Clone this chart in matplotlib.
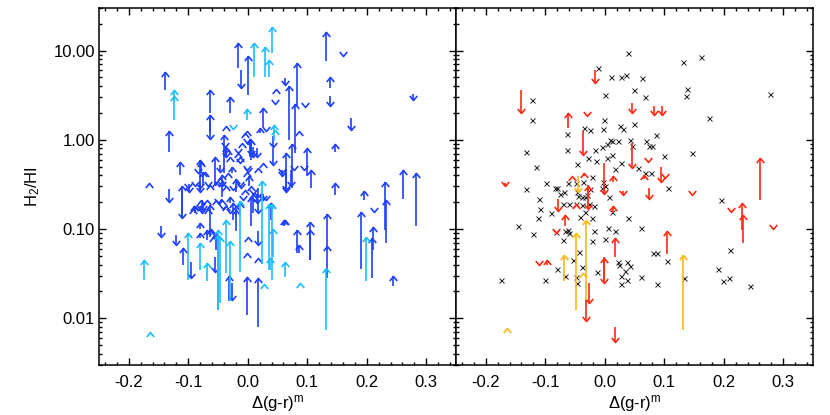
import numpy as np
import matplotlib
matplotlib.use('Agg')
import matplotlib.pyplot as plt
from matplotlib.path import Path
from matplotlib.ticker import FixedLocator, MultipleLocator, LogLocator, FormatStrFormatter, NullFormatter

plt.rcParams['font.family'] = ['Liberation Sans', 'DejaVu Sans']
plt.rcParams['mathtext.default'] = 'regular'
plt.rcParams['axes.unicode_minus'] = False

# ---------------- data: left panel ----------------
# up arrows: (x, tail, tip) ; tail == tip -> bare chevron
blue_up_x = [-0.139, -0.166, -0.132, -0.016, 0.001, 0.132, 0.139, -0.064, -0.063, -0.030, 0.026, 0.048,
             -0.036, -0.002, 0.020, 0.082, 0.069, 0.079, 0.086, 0.075, 0.065, 0.100, 0.106, 0.146, 0.147,
             0.196, 0.231, 0.233, 0.261, 0.283, 0.062, 0.082, 0.086, 0.104, 0.104, 0.134, 0.134, 0.190,
             0.208, 0.211, 0.244, -0.111, -0.114, -0.090, -0.064, -0.109, -0.081, -0.081, -0.069, -0.061,
             -0.019, 0.001, -0.001, 0.017, -0.002, 0.018, -0.032, 0.039, 0.061, 0.006,
             -0.079, -0.076, -0.055, -0.040, -0.036, -0.026, 0.003, -0.019, 0.002, -0.053, -0.030, -0.089,
             -0.025, -0.019, 0.009, -0.053, -0.081, -0.044, 0.006,
             -0.064, -0.047, -0.044, -0.036, -0.030, -0.005, 0.006, 0.026, 0.017, -0.069, -0.053, -0.044,
             -0.036, -0.013, -0.064, -0.058, -0.033, -0.013, -0.016, -0.010, -0.004, -0.072, -0.033,
             -0.002, -0.078, -0.092, -0.067]
blue_up_tail = [3.6, 0.33, 0.74, 6.4, 3.2, 7.6, 3.8, 2.0, 1.19, 2.0, 1.41, 3.7,
                1.43, 1.24, 1.19, 2.4, 1.0, 0.71, 1.24, 0.29, 0.50, 0.39, 0.29, 0.74, 0.24,
                0.21, 0.098, 0.069, 0.22, 0.107, 0.11, 0.054, 0.054, 0.045, 0.045, 0.058, 0.028, 0.036,
                0.028, 0.058, 0.023, 0.138, 0.40, 0.164, 0.082, 0.040, 0.10, 0.080, 0.076, 0.10,
                0.094, 0.082, 0.054, 0.047, 0.011, 0.0081, 0.0155, 0.127, 0.107, 0.107,
                0.42, 0.30, 0.30, 0.42, 0.65, 0.42, 0.65, 0.26, 0.30, 0.30, 0.195, 0.15,
                0.127, 0.138, 0.15, 0.058, 0.275, 0.23, 0.60,
                0.31, 0.37, 0.34, 0.30, 0.65, 0.275, 0.30, 0.55, 0.48, 0.21, 0.21, 0.21,
                0.18, 0.195, 0.098, 0.082, 0.77, 0.65, 0.71, 0.92, 1.19, 0.44, 0.42,
                0.44, 0.21, 0.17, 0.17]
blue_up_tip = [5.7, 0.33, 1.24, 12.1, 8.8, 16.0, 5.1, 3.6, 1.9, 3.0, 2.3, 3.7,
               1.43, 1.24, 1.35, 7.2, 4.0, 2.5, 1.24, 0.90, 0.71, 0.81, 0.46, 0.90, 0.33,
               0.27, 0.34, 0.21, 0.46, 0.42, 0.127, 0.098, 0.067, 0.12, 0.098, 0.148, 0.065, 0.157,
               0.079, 0.105, 0.030, 0.30, 0.57, 0.18, 0.187, 0.062, 0.116, 0.090, 0.098, 0.10,
               0.164, 0.082, 0.054, 0.047, 0.029, 0.028, 0.030, 0.195, 0.127, 0.23,
               0.57, 0.44, 0.65, 1.12, 0.84, 0.50, 1.01, 0.36, 0.39, 0.34, 0.23, 0.18,
               0.195, 0.18, 0.25, 0.090, 0.60, 0.40, 1.0,
               0.31, 0.37, 0.34, 0.30, 0.65, 0.275, 0.30, 0.55, 0.48, 0.21, 0.21, 0.21,
               0.18, 0.195, 0.098, 0.082, 0.77, 0.65, 0.71, 0.92, 1.19, 0.44, 0.42,
               0.44, 0.21, 0.17, 0.17]

blue_dn_x = [-0.012, 0.160, 0.138, 0.278, 0.174, 0.062, 0.096, 0.046, 0.043, -0.063, -0.132, -0.146,
             -0.111, -0.099, -0.081, -0.077, -0.120, -0.096, -0.055, -0.026, 0.017, 0.065, 0.064, 0.057,
             0.078, 0.094, 0.213, 0.057,
             -0.047, 0.005, 0.009, 0.015, -0.036, -0.081, 0.017, 0.017, 0.026, -0.075, 0.043, 0.015, 0.073,
             -0.016, -0.013, -0.002, -0.001, -0.089, -0.067, -0.043, -0.025, -0.011, 0.001, 0.009, 0.030,
             -0.081, -0.050, -0.041, -0.030, -0.008, 0.031, -0.039, -0.100, -0.084, -0.013]
blue_dn_tail = [6.1, 8.6, 3.1, 3.3, 1.76, 4.9, 2.35, 2.5, 0.81, 1.83, 0.28, 0.107,
                0.275, 0.32, 0.31, 0.21, 0.086, 0.043, 0.049, 0.025, 0.094, 0.46, 0.50, 0.42,
                0.46, 0.46, 0.157, 0.46,
                0.52, 0.92, 0.84, 0.81, 0.84, 0.34, 0.29, 0.22, 0.25, 0.195, 1.09, 0.25, 0.46,
                0.71, 0.55, 0.92, 0.46, 0.30, 0.30, 0.30, 0.275, 0.29, 0.44, 0.25, 0.21,
                0.17, 0.195, 0.17, 0.15, 0.21, 1.24, 0.84, 0.29, 0.42, 0.30]
blue_dn_tip = [3.8, 8.6, 2.4, 2.8, 1.29, 4.1, 2.35, 2.5, 0.52, 1.02, 0.20, 0.082,
               0.133, 0.26, 0.26, 0.15, 0.067, 0.028, 0.033, 0.016, 0.067, 0.275, 0.26, 0.42,
               0.46, 0.46, 0.157, 0.39,
               0.44, 0.68, 0.65, 0.65, 0.65, 0.29, 0.23, 0.15, 0.21, 0.164, 0.84, 0.195, 0.30,
               0.71, 0.55, 0.92, 0.46, 0.30, 0.30, 0.30, 0.275, 0.29, 0.44, 0.25, 0.21,
               0.17, 0.195, 0.17, 0.15, 0.21, 1.24, 0.84, 0.29, 0.42, 0.30]

cyan_up_x = [-0.175, -0.164, -0.124, -0.124, 0.010, 0.029, 0.036, 0.040, -0.002, 0.044, 0.046,
             -0.100, -0.081, -0.068, -0.050, -0.050, -0.047, -0.037, -0.030, -0.013, 0.024, 0.036,
             0.040, 0.037, 0.043, 0.027, 0.062, 0.087, 0.131, 0.198]
cyan_up_tail = [0.027, 0.0071, 1.68, 2.8, 5.1, 5.1, 5.1, 9.4, 1.68, 0.97, 1.3,
                0.027, 0.035, 0.026, 0.0124, 0.0124, 0.0147, 0.032, 0.0155, 0.033, 0.041, 0.035,
                0.027, 0.035, 0.049, 0.024, 0.029, 0.025, 0.0074, 0.026]
cyan_up_tip = [0.045, 0.0071, 3.6, 3.1, 12.1, 11.0, 7.9, 18.3, 2.2, 1.45, 1.3,
               0.090, 0.069, 0.042, 0.097, 0.085, 0.082, 0.127, 0.073, 0.209, 0.35, 0.19,
               0.19, 0.047, 0.10, 0.024, 0.043, 0.025, 0.037, 0.081]

cyan_dn_x = [-0.025]
cyan_dn_tail = [1.32]
cyan_dn_tip = [1.32]

# ---------------- data: right panel ----------------
cross_x = [0.039, -0.011, 0.010, 0.028, 0.035, 0.062, 0.132, 0.161, -0.123, 0.049, 0.000, 0.068, 0.138,
           0.137, -0.122, 0.175, -0.002, -0.035, -0.024, -0.003, 0.025, 0.031, 0.049, -0.063, 0.086,
           -0.133, -0.064, -0.016, -0.005, -0.028, 0.008, 0.013, 0.004, 0.022, 0.042, 0.045, 0.069,
           0.075, 0.079, 0.099, 0.146, -0.116, -0.046, -0.014, 0.003, 0.012, 0.028, 0.018, 0.056,
           0.067, 0.077, -0.021, -0.036, -0.003, 0.106, -0.133, -0.099, -0.084, -0.080, -0.069, -0.076,
           -0.062, -0.048, -0.046, -0.045, -0.039, -0.033, -0.030, -0.025, -0.027, -0.018, -0.005, 0.000,
           0.007, 0.013, -0.111, -0.109, -0.112, -0.146, -0.120, -0.090, -0.070, -0.060, -0.048, -0.039,
           -0.034, -0.042, -0.022, 0.039, 0.061, -0.067, -0.062, -0.060, -0.082, -0.070, -0.018, 0.006,
           0.000, 0.018, -0.021, -0.043, -0.054, -0.038, -0.081, -0.067, -0.100, -0.175, -0.048, -0.046,
           -0.013, 0.023, 0.024, 0.038, 0.043, 0.034, 0.027, 0.028, 0.038, 0.061, 0.087, 0.081, 0.087,
           0.104, 0.134, 0.211, 0.191, 0.199, 0.208, 0.244, 0.196, 0.278]
cross_y = [9.4, 6.4, 5.1, 5.0, 5.3, 4.9, 7.5, 8.4, 2.76, 3.6, 3.2, 3.0, 3.7,
           3.1, 1.68, 1.75, 1.68, 1.37, 1.29, 1.32, 1.44, 1.32, 1.49, 1.16, 1.14,
           0.73, 0.77, 0.76, 0.84, 0.63, 1.0, 0.96, 0.90, 0.96, 1.0, 0.86, 0.97,
           0.86, 0.86, 0.66, 0.72, 0.50, 0.53, 0.58, 0.62, 0.67, 0.55, 0.47, 0.48,
           0.43, 0.43, 0.38, 0.34, 0.34, 0.285, 0.28, 0.33, 0.29, 0.29, 0.26, 0.25,
           0.33, 0.33, 0.26, 0.235, 0.23, 0.23, 0.24, 0.28, 0.19, 0.18, 0.29, 0.30,
           0.23, 0.157, 0.216, 0.167, 0.132, 0.108, 0.088, 0.15, 0.19, 0.19, 0.19, 0.187,
           0.156, 0.138, 0.132, 0.132, 0.102, 0.094, 0.098, 0.090, 0.092, 0.076, 0.095, 0.102,
           0.078, 0.094, 0.074, 0.055, 0.045, 0.038, 0.0355, 0.030, 0.027, 0.027, 0.029, 0.025,
           0.033, 0.043, 0.040, 0.043, 0.039, 0.034, 0.030, 0.024, 0.027, 0.029, 0.024, 0.054, 0.054,
           0.044, 0.028, 0.059, 0.036, 0.026, 0.028, 0.023, 0.21, 3.3]

red_dn_x = [-0.017, -0.140, -0.030, 0.046, 0.082, 0.096, -0.036, 0.045, 0.072, -0.002, 0.095, 0.101,
            -0.167, 0.030, 0.075, 0.147, -0.078, -0.028, 0.213, -0.082, 0.283, -0.110, -0.002, -0.026,
            -0.032, 0.017]
red_dn_tail = [6.1, 3.6, 1.83, 2.6, 2.4, 2.4, 1.24, 0.92, 0.57, 0.55, 0.50, 0.37,
               0.33, 0.27, 0.29, 0.24, 0.22, 0.31, 0.155, 0.09, 0.10, 0.040, 0.049, 0.025,
               0.016, 0.0081]
red_dn_tip = [4.3, 2.0, 1.83, 2.0, 1.9, 1.9, 0.68, 0.48, 0.57, 0.25, 0.34, 0.37,
              0.30, 0.24, 0.22, 0.24, 0.16, 0.17, 0.155, 0.09, 0.10, 0.040, 0.025, 0.0147,
              0.0093, 0.0055]

red_up_x = [-0.062, -0.035, -0.055, 0.014, 0.066, 0.261, -0.048, 0.014, -0.066, 0.230, 0.232, 0.105,
            0.017, -0.097, -0.002, -0.028]
red_up_tail = [1.35, 0.39, 0.39, 0.34, 0.36, 0.21, 0.19, 0.15, 0.107, 0.098, 0.069, 0.052,
               0.049, 0.040, 0.027, 0.25]
red_up_tip = [2.0, 0.42, 0.39, 0.39, 0.40, 0.62, 0.19, 0.18, 0.145, 0.195, 0.145, 0.094,
              0.079, 0.045, 0.047, 0.30]

orange_up_x = [-0.165, -0.069, -0.049, -0.032, -0.036, 0.132]
orange_up_tail = [0.0078, 0.026, 0.0124, 0.016, 0.032, 0.0074]
orange_up_tip = [0.0078, 0.051, 0.090, 0.127, 0.032, 0.051]

orange_dn_x = [-0.045]
orange_dn_tail = [0.39]
orange_dn_tip = [0.26]

x_ticks = [-0.2, -0.1, 0.0, 0.1, 0.2, 0.3]
y_ticks = [0.01, 0.1, 1.0, 10.0]

# ---------------- colours ----------------
BLUE = '#1f3fff'
CYAN = '#1cbcff'
RED = '#ff2a14'
ORANGE = '#ffb814'

UP = Path([(-0.5, -0.6), (0, 0), (0.5, -0.6)], [Path.MOVETO, Path.LINETO, Path.LINETO])
DOWN = Path([(-0.5, 0.6), (0, 0), (0.5, 0.6)], [Path.MOVETO, Path.LINETO, Path.LINETO])


def arrows(ax, x, tail, tip, up, color):
    ax.vlines(x, tail, tip, colors=color, lw=1.2, zorder=3)
    ax.plot(x, tip, ls='none', marker=UP if up else DOWN, ms=6.5, mec=color,
            mfc='none', mew=1.2, zorder=3)


fig = plt.figure(figsize=(8.3, 4.15), dpi=100)
axL = fig.add_axes([99 / 830, 50 / 415, 357 / 830, 357 / 415])
axR = fig.add_axes([456 / 830, 50 / 415, 357 / 830, 357 / 415])

arrows(axL, blue_up_x, blue_up_tail, blue_up_tip, True, BLUE)
arrows(axL, blue_dn_x, blue_dn_tail, blue_dn_tip, False, BLUE)
arrows(axL, cyan_up_x, cyan_up_tail, cyan_up_tip, True, CYAN)
arrows(axL, cyan_dn_x, cyan_dn_tail, cyan_dn_tip, False, CYAN)

axR.plot(cross_x, cross_y, ls='none', marker='x', ms=3.6, mew=0.7, color='#222222', zorder=2)
arrows(axR, red_up_x, red_up_tail, red_up_tip, True, RED)
arrows(axR, red_dn_x, red_dn_tail, red_dn_tip, False, RED)
arrows(axR, orange_up_x, orange_up_tail, orange_up_tip, True, ORANGE)
arrows(axR, orange_dn_x, orange_dn_tail, orange_dn_tip, False, ORANGE)

for ax in (axL, axR):
    ax.set_yscale('log')
    ax.set_xlim(-0.25, 0.35)
    ax.set_ylim(0.003, 30)
    ax.xaxis.set_major_locator(FixedLocator(x_ticks))
    ax.xaxis.set_minor_locator(MultipleLocator(0.02))
    ax.xaxis.set_major_formatter(FormatStrFormatter('%.1f'))
    ax.yaxis.set_major_locator(FixedLocator(y_ticks))
    ax.yaxis.set_minor_locator(LogLocator(base=10, subs=np.arange(2, 10), numticks=20))
    ax.yaxis.set_minor_formatter(NullFormatter())
    ax.tick_params(which='both', direction='in', top=True, right=True, width=1.0,
                   labelsize=12, colors='black')
    ax.tick_params(which='major', length=5)
    ax.tick_params(which='minor', length=2.5)
    ax.tick_params(axis='x', which='major', pad=7)
    ax.tick_params(axis='y', which='major', pad=3)
    for s in ax.spines.values():
        s.set_linewidth(1.1)
    ax.set_xlabel('Δ(g-r)$^{m}$', fontsize=12, labelpad=2)

axL.yaxis.set_major_formatter(FormatStrFormatter('%.2f'))
axL.set_ylabel('H$_2$/HI', fontsize=12, labelpad=8)
axR.yaxis.set_major_formatter(NullFormatter())

fig.savefig('out.png', dpi=100)
